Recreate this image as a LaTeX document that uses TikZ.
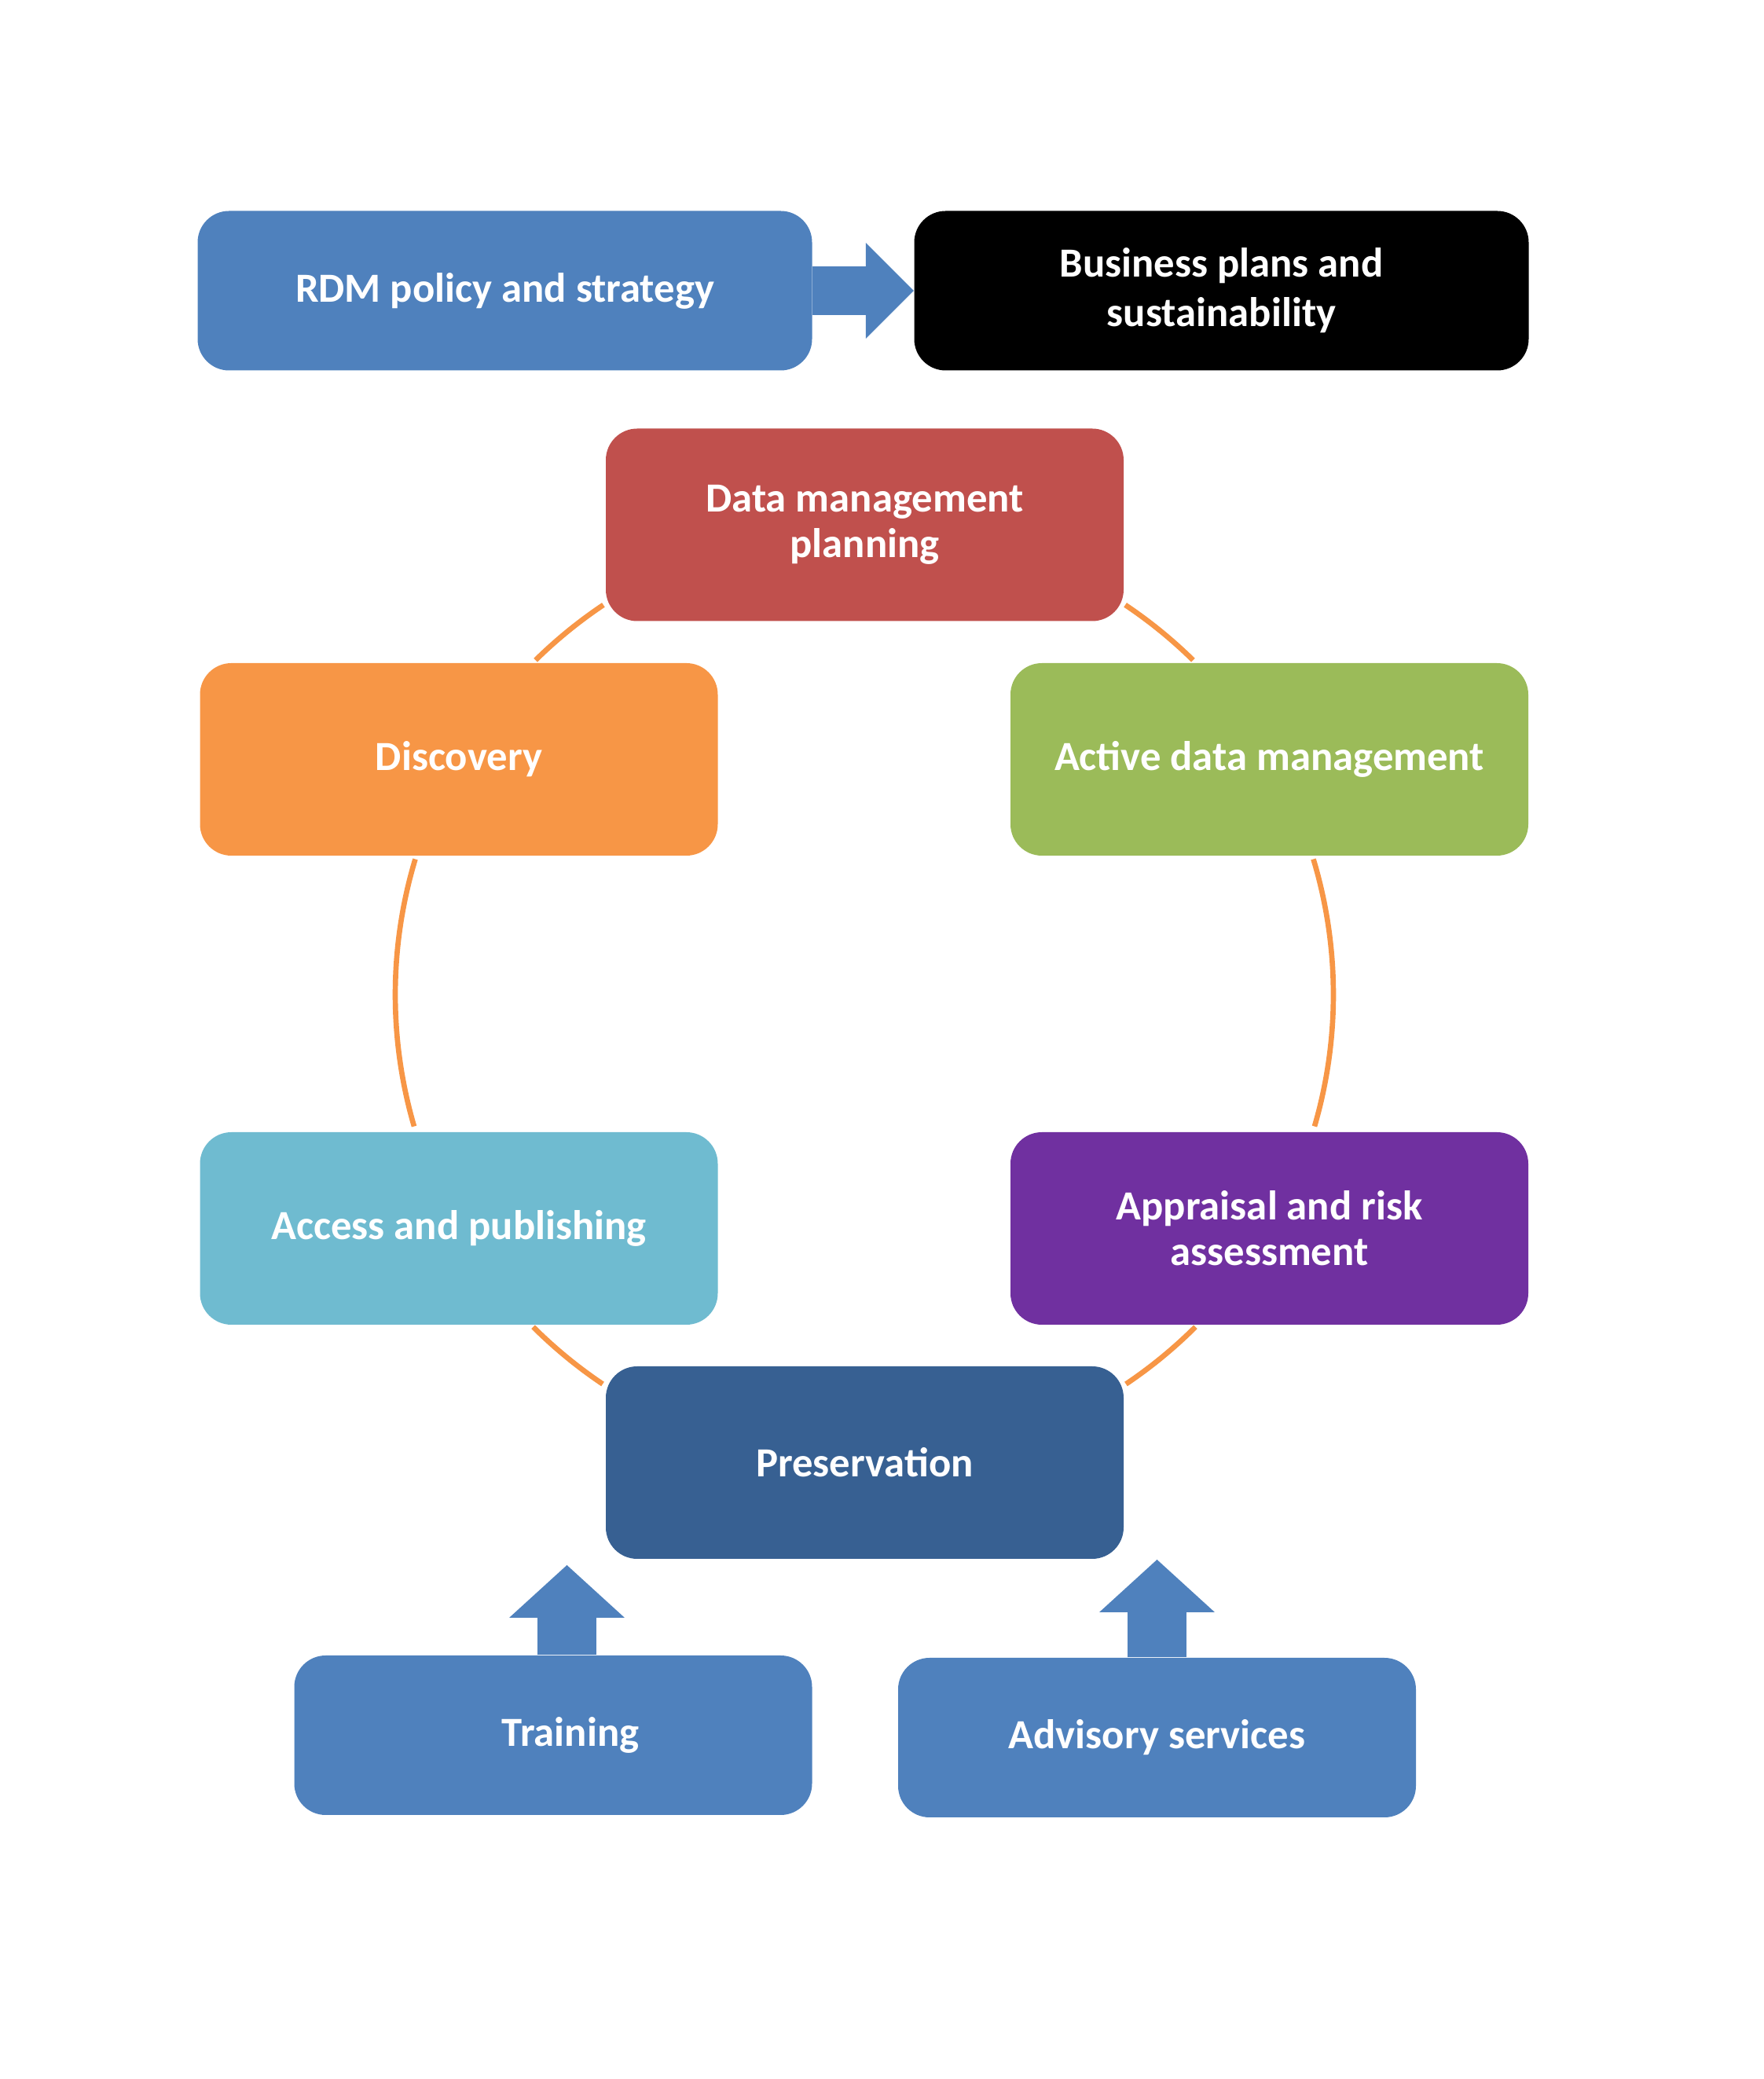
\documentclass[tikz,border=0pt]{standalone}
\usepackage{fontspec}
\setmainfont{Carlito}
\usepackage{xcolor}
\definecolor{rdmblue}{RGB}{79,129,189}
\definecolor{planred}{RGB}{192,80,77}
\definecolor{discorange}{RGB}{247,150,70}
\definecolor{activegreen}{RGB}{155,187,89}
\definecolor{accesscyan}{RGB}{111,187,208}
\definecolor{apprpurple}{RGB}{112,48,160}
\definecolor{presblue}{RGB}{55,96,146}
\usepackage{tikz}
\usetikzlibrary{arrows.meta, positioning}

\begin{document}
\begin{tikzpicture}[
    stage/.style={rounded corners=0.4cm, minimum width=6.59cm, minimum height=2.45cm, inner sep=0pt,
        text=white, align=center, font=\fontsize{15}{16.5}\selectfont\bfseries},
    wide/.style={stage, minimum width=7.82cm, minimum height=2.03cm, font=\fontsize{15}{18}\selectfont\bfseries},
    service/.style={stage, minimum height=2.03cm},
    cyclearc/.style={draw=discorange, line width=1.9pt},
    fatarrow/.style={draw=rdmblue, line width=0.62cm, -{Triangle[length=0.61cm,width=1.22cm,line width=0pt]}},
    uparrow/.style={draw=rdmblue, line width=0.75cm, -{Triangle[length=0.67cm,width=1.47cm,line width=0pt]}}
]
    \useasboundingbox (0,0) rectangle (22.45,26.46);
    % Cajas de arriba
    \node[wide, fill=rdmblue] (rdm) at (6.425,22.76) {RDM policy and strategy};
    \node[wide, fill=black] (biz) at (15.545,22.76) {Business plans and\\sustainability};
    \draw[fatarrow] (rdm.east) -- (biz.west);
    % Ciclo de vida de los datos
    \node[stage, fill=planred] (dmp) at (11.005,19.78) {Data management\\planning};
    \node[stage, fill=discorange] (disc) at (5.84,16.795) {Discovery};
    \node[stage, fill=activegreen] (active) at (16.155,16.795) {Active data management};
    \node[stage, fill=accesscyan] (access) at (5.84,10.825) {Access and publishing};
    \node[stage, fill=apprpurple] (appr) at (16.155,10.825) {Appraisal and risk\\assessment};
    \node[stage, fill=presblue] (pres) at (11.005,7.845) {Preservation};
    % Arcos del circulo entre las cajas
    \coordinate (hub) at (11.0,13.8);
    \foreach \a/\b in {123.8/134.5, 163.2/196.3, 225.1/236.1, 56.2/45.5, 16.8/-16.3, -45.1/-56.1}
        \draw[cyclearc] ([shift={(\a:5.97)}]hub) arc[start angle=\a, end angle=\b, radius=5.97];
    % Servicios de apoyo abajo
    \node[service, fill=rdmblue] (train) at (7.04,4.375) {\hspace*{0.44cm}Training};
    \node[service, fill=rdmblue] (adv) at (14.725,4.345) {Advisory services};
    \coordinate (trainTip) at (7.215,6.54);
    \coordinate (advTip) at (14.725,6.61);
    \draw[uparrow] (train.north -| trainTip) -- (trainTip);
    \draw[uparrow] (adv.north) -- (advTip);
\end{tikzpicture}
\end{document}
